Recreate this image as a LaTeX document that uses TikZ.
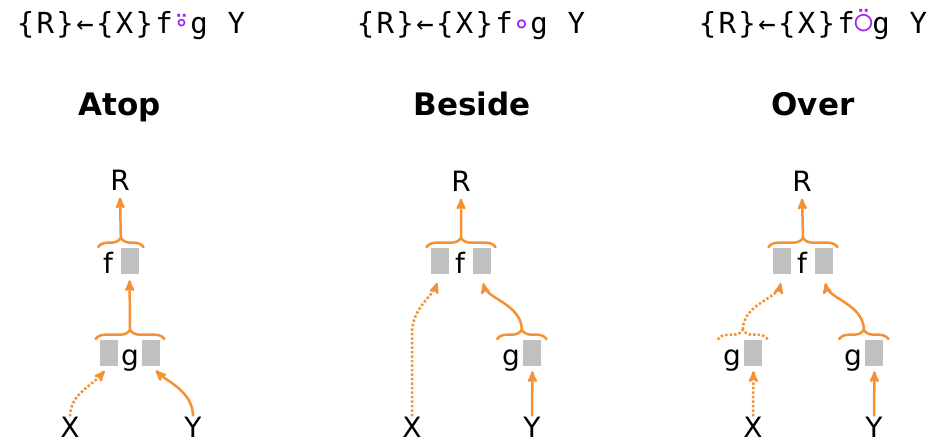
\documentclass[tikz,border=0pt]{standalone}
\usepackage{fontspec}
\setmainfont{DejaVu Sans}
\newfontfamily\aplfont[LetterSpace=8]{DejaVu Sans Mono}
\usetikzlibrary{arrows,positioning,calc,decorations.pathreplacing}
\definecolor{arrorange}{RGB}{245,145,50}
\definecolor{oppurple}{RGB}{160,32,240}
\definecolor{slotgray}{RGB}{192,192,192}

\begin{document}
\begin{tikzpicture}[x=1pt,y=-1pt,>=stealth',semithick]
\tikzstyle{every node}=[font=\fontsize{28}{28}\selectfont]
\tikzstyle{fn}=[text height=26pt,text depth=0pt,inner sep=0pt]
\tikzstyle{port}=[anchor=base,inner sep=0pt]
\tikzstyle{slot}=[fill=slotgray,minimum width=18pt,minimum height=26pt,inner sep=0pt]
\tikzstyle{link}=[->,draw=arrorange,line width=2.5pt]
\tikzstyle{dotlink}=[link,dash pattern=on 2.5pt off 2pt]
\tikzstyle{brc}=[-,draw=arrorange,line width=2.5pt,decorate,decoration={brace,amplitude=10pt}]
\tikzstyle{optitle}=[anchor=base,font=\bfseries\fontsize{31}{31}\selectfont]
\tikzstyle{header}=[anchor=base,font=\aplfont\fontsize{29}{29}\selectfont]
\useasboundingbox (0,0) rectangle (942,443);

% headers and titles
\node[header] (hdra) at (131,34) {\{R\}←\{X\}f{\color{oppurple}⍤}g Y};
\node[header] (hdrb) at (471,34) {\{R\}←\{X\}f{\color{oppurple}∘}g Y};
\node[header] (hdrc) at (813,34) {\{R\}←\{X\}f{\color{oppurple}⍥}g Y};
\node[optitle] (tta) at (120,116) {Atop};
\node[optitle] (ttb) at (472,116) {Beside};
\node[optitle] (ttc) at (813,116) {Over};

% Atop
\node[anchor=base] (Ra) at (120,191) {R};
\node[fn] (fa) at (108,261) {f};
\node[slot,right=7pt of fa] (fab) {};
\node[fn] (ga) at (130,353) {g};
\node[slot,left=3pt of ga] (gal) {};
\node[slot,right=3pt of ga] (gar) {};
\node[port] (Xa) at (70,437) {X};
\node[port] (Ya) at (193,437) {Y};
\coordinate (fa1) at ($(fa.west |- fab.north)+(-5,0)$);
\coordinate (fa2) at ($(fab.north east)+(5,0)$);
\coordinate (tfa) at ($(fa1)!0.5!(fa2)+(0,-10)$);
\coordinate (ga1) at ($(gal.north west)+(-4,0)$);
\coordinate (ga2) at ($(gar.north east)+(4,0)$);
\coordinate (tga) at ($(ga1)!0.5!(ga2)+(0,-10)$);
\draw[brc] (fa1) -- (fa2);
\draw[brc] (ga1) -- (ga2);
\draw[link,shorten >=3pt] (tfa) -- (Ra.south);
\draw[link,shorten >=6pt] (tga) -- (fab.south);
\draw[dotlink,shorten >=6pt] (Xa.north) .. controls +(0,-22) and +(-17,20) .. (gal.south);
\draw[link,shorten >=6pt] (Ya.north) .. controls +(0,-25) and +(15,15) .. (gar.south);

% Beside
\node[anchor=base] (Rb) at (461,192) {R};
\node[fn] (fb) at (460,261) {f};
\node[slot,left=5pt of fb] (fbl) {};
\node[slot,right=7pt of fb] (fbr) {};
\node[fn] (gb) at (511,353) {g};
\node[slot,right=3pt of gb] (gbr) {};
\node[port] (Xb) at (412,437) {X};
\node[port] (Yb) at (532,437) {Y};
\coordinate (fb1) at ($(fbl.north west)+(-5,0)$);
\coordinate (fb2) at ($(fbr.north east)+(5,0)$);
\coordinate (tfb) at ($(fb1)!0.5!(fb2)+(0,-10)$);
\coordinate (gb1) at ($(gb.west |- gbr.north)+(-5,0)$);
\coordinate (gb2) at ($(gbr.north east)+(5,0)$);
\coordinate (tgb) at ($(gb1)!0.5!(gb2)+(0,-10)$);
\draw[brc] (fb1) -- (fb2);
\draw[brc] (gb1) -- (gb2);
\draw[link,shorten >=3pt] (tfb) -- (Rb.south);
\draw[dotlink,shorten >=9pt] (Xb.north) -- ++(0,-83) .. controls +(0,-25) and +(-8,22) .. (fbl.south);
\draw[link,shorten >=9pt] (tgb) .. controls +(0,-25) and +(5,24) .. (fbr.south);
\draw[link,shorten >=5pt] (Yb.north) -- (gbr.south);

% Over
\node[anchor=base] (Rc) at (802,192) {R};
\node[fn] (fc) at (802,261) {f};
\node[slot,left=5pt of fc] (fcl) {};
\node[slot,right=7pt of fc] (fcr) {};
\node[fn] (gcl) at (732,353) {g};
\node[slot,right=3pt of gcl] (gclr) {};
\node[fn] (gcr) at (853,353) {g};
\node[slot,right=3pt of gcr] (gcrr) {};
\node[port] (Xc) at (753,437) {X};
\node[port] (Yc) at (874,437) {Y};
\coordinate (fc1) at ($(fcl.north west)+(-5,0)$);
\coordinate (fc2) at ($(fcr.north east)+(5,0)$);
\coordinate (tfc) at ($(fc1)!0.5!(fc2)+(0,-10)$);
\coordinate (gl1) at ($(gcl.west |- gclr.north)+(-5,0)$);
\coordinate (gl2) at ($(gclr.north east)+(5,0)$);
\coordinate (tgl) at ($(gl1)!0.5!(gl2)+(0,-10)$);
\coordinate (gr1) at ($(gcr.west |- gcrr.north)+(-5,0)$);
\coordinate (gr2) at ($(gcrr.north east)+(5,0)$);
\coordinate (tgr) at ($(gr1)!0.5!(gr2)+(0,-10)$);
\draw[brc] (fc1) -- (fc2);
\draw[brc,dash pattern=on 2.5pt off 2pt] (gl1) -- (gl2);
\draw[brc] (gr1) -- (gr2);
\draw[link,shorten >=3pt] (tfc) -- (Rc.south);
\draw[dotlink,shorten >=9pt] (tgl) .. controls +(0,-25) and +(-5,24) .. (fcl.south);
\draw[link,shorten >=9pt] (tgr) .. controls +(0,-25) and +(5,24) .. (fcr.south);
\draw[dotlink,shorten >=5pt] (Xc.north) -- (gclr.south);
\draw[link,shorten >=5pt] (Yc.north) -- (gcrr.south);
\end{tikzpicture}
\end{document}
